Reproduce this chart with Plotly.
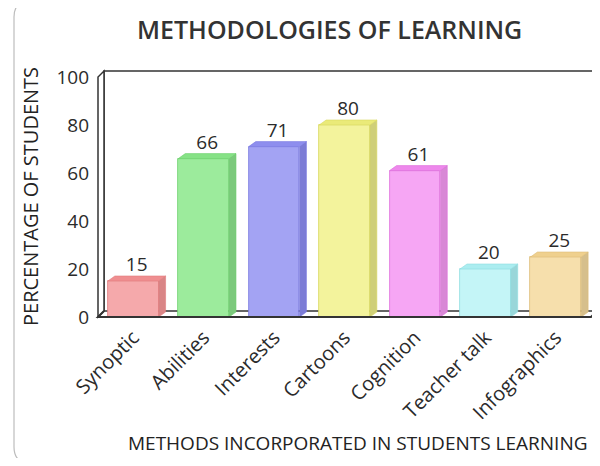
import plotly.graph_objects as go

categories = ["Synoptic", "Abilities", "Interests", "Cartoons", "Cognition", "Teacher talk", "Infographics"]
values = [15, 66, 71, 80, 61, 20, 25]
front_colors = ["#F5A9AB", "#9CEB9C", "#A3A3F3", "#F3F39C", "#F6A6F4", "#C4F5F7", "#F6DFAC"]
top_colors = ["#EF8E90", "#86E286", "#8E8EEE", "#EAEA78", "#EE88EC", "#ABEDF0", "#EFD08E"]
side_colors = ["#D98586", "#7CC97C", "#7C7CD6", "#CFCF78", "#D888D6", "#99D6D9", "#D6BF8C"]
edge_colors = ["#E07C7E", "#6FD06F", "#7B7BE0", "#D8D860", "#DE6EDC", "#8FDDE0", "#DDBD78"]
y_ticks = [0, 20, 40, 60, 80, 100]

# the page body has an 8px margin; work in page pixels and shift
OFF = 8
W, H = 600 - OFF, 466 - 2 * OFF
# plot area in page pixels
PL, PR, PT, PB = 94, 599, 68, 321
L, T = PL - OFF, PT - OFF
R = W - (PR - OFF)
B = H - (PB - OFF)
pw, ph = W - L - R, H - T - B

xs = 493 / 7.0            # px per category unit (front plane 98..591)
x_min = -0.5 - (98 - PL) / xs
x_max = x_min + pw / xs
ys = 2.4                  # px per percent (0 at page y=317)
y_min = -(PB - 317) / ys
y_max = y_min + ph / ys

bdx, bdy = 7 / xs, 5 / ys      # bar depth
fdx, fdy = 6 / xs, 6 / ys      # frame depth
bw = 0.72
FONT = "Open Sans"
DARK = "#2b2b2b"

xpos = list(range(len(categories)))

fig = go.Figure()
fig.add_trace(go.Bar(
    x=xpos, y=values, width=bw,
    marker=dict(color=front_colors, line=dict(width=0.8, color=edge_colors)),
    hoverinfo="skip", showlegend=False,
))
fig.add_trace(go.Scatter(
    x=[i + bdx / 2 for i in xpos], y=[v + bdy for v in values],
    mode="text", text=[str(v) for v in values], textposition="top center",
    textfont=dict(family=FONT, size=19, color=DARK),
    hoverinfo="skip", showlegend=False, cliponaxis=False,
))

shapes = []
fx0, fx1 = -0.5, len(categories) - 0.5
shapes.append(dict(type="path", xref="x", yref="y", layer="below",
                   path=f"M {fx0+fdx},{fdy} L {fx0+fdx},{100+fdy} L {fx1+fdx},{100+fdy} L {fx1+fdx},{fdy} Z",
                   line=dict(color="#333333", width=1.5), fillcolor="white"))
shapes.append(dict(type="path", xref="x", yref="y", layer="below",
                   path=f"M {fx0},0 L {fx0},100 L {fx0+fdx},{100+fdy} L {fx0+fdx},{fdy} Z",
                   line=dict(color="#333333", width=1.5), fillcolor="white"))

for i, v in enumerate(values):
    x0, x1 = i - bw / 2, i + bw / 2
    shapes.append(dict(type="path", xref="x", yref="y", layer="above",
                       path=f"M {x1},0 L {x1+bdx},{bdy} L {x1+bdx},{v+bdy} L {x1},{v} Z",
                       fillcolor=side_colors[i], line=dict(color=edge_colors[i], width=0.6)))
    shapes.append(dict(type="path", xref="x", yref="y", layer="above",
                       path=f"M {x0},{v} L {x1},{v} L {x1+bdx},{v+bdy} L {x0+bdx},{v+bdy} Z",
                       fillcolor=top_colors[i], line=dict(color=edge_colors[i], width=0.6)))

shapes.append(dict(type="path", xref="x", yref="y", layer="above",
                   path=f"M {fx0+fdx},{fdy} L {fx0},0 L {fx1},0 L {fx1+fdx},{fdy}",
                   line=dict(color="#333333", width=2)))


def ppx(px):   # page px -> paper x
    return (px - OFF - L) / pw


def ppy(py):   # page px -> paper y
    return (H - B - (py - OFF)) / ph


r = 16
cx0, cy0, cx1, cy1 = 14, 1, 640, 463
card = (f"M {ppx(cx1)},{ppy(cy0)} L {ppx(cx0+r)},{ppy(cy0)} "
        f"Q {ppx(cx0)},{ppy(cy0)} {ppx(cx0)},{ppy(cy0+r)} "
        f"L {ppx(cx0)},{ppy(cy1-r)} Q {ppx(cx0)},{ppy(cy1)} {ppx(cx0+r)},{ppy(cy1)} "
        f"L {ppx(cx1)},{ppy(cy1)}")
shapes.append(dict(type="path", xref="paper", yref="paper", layer="below",
                   path=card, line=dict(color="#BDBDBD", width=1.2)))

annotations = [
    dict(text="METHODOLOGIES OF LEARNING", x=ppx(329), y=ppy(29), xref="paper", yref="paper",
         showarrow=False, xanchor="center", yanchor="middle",
         font=dict(family=FONT, size=25, color="#333333", weight=600)),
    dict(text="METHODS INCORPORATED IN STUDENTS LEARNING", x=ppx(358), y=ppy(443),
         xref="paper", yref="paper", showarrow=False, xanchor="center", yanchor="middle",
         font=dict(family=FONT, size=19, color="#222222")),
    dict(text="PERCENTAGE OF STUDENTS", x=ppx(31), y=ppy(197), xref="paper", yref="paper",
         showarrow=False, xanchor="center", yanchor="middle", textangle=-90,
         font=dict(family=FONT, size=20, color="#222222")),
]

fig.update_layout(
    width=W, height=H,
    margin=dict(l=L, r=R, t=T, b=B, pad=0),
    paper_bgcolor="white", plot_bgcolor="white",
    shapes=shapes, annotations=annotations,
    bargap=0, showlegend=False,
    xaxis=dict(range=[x_min, x_max], tickmode="array", tickvals=xpos, ticktext=categories,
               tickangle=-45, showgrid=False, zeroline=False, showline=False, ticks="",
               tickfont=dict(family=FONT, size=20, color=DARK), fixedrange=True),
    yaxis=dict(range=[y_min, y_max], tickmode="array", tickvals=y_ticks,
               showgrid=False, zeroline=False, showline=False, ticks="",
               ticklabelstandoff=4,
               tickfont=dict(family=FONT, size=19, color=DARK), fixedrange=True),
)

fig.write_html("out.html")
